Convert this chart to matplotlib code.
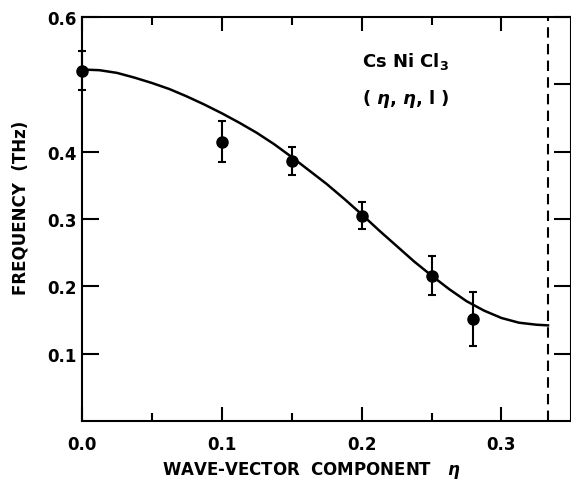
import matplotlib.pyplot as plt
from matplotlib.ticker import FixedLocator

# measured points (CsNiCl3, (eta, eta, 1) direction)
eta = [0.0, 0.1, 0.15, 0.2, 0.25, 0.28]
freq = [0.52, 0.415, 0.386, 0.305, 0.216, 0.152]
err = [0.029, 0.030, 0.021, 0.020, 0.029, 0.040]

# theory curve
curve_eta = [0.0, 0.0125, 0.025, 0.0375, 0.05, 0.0625, 0.075, 0.0875, 0.1,
             0.1125, 0.125, 0.1375, 0.15, 0.1625, 0.175, 0.1875, 0.2, 0.2125,
             0.225, 0.2375, 0.25, 0.2625, 0.275, 0.2875, 0.3, 0.3125, 0.325,
             0.3333]
curve_freq = [0.522, 0.521, 0.517, 0.510, 0.502, 0.493, 0.482, 0.470, 0.457,
              0.443, 0.428, 0.411, 0.392, 0.372, 0.352, 0.330, 0.307, 0.283,
              0.260, 0.237, 0.216, 0.196, 0.178, 0.164, 0.153, 0.146, 0.143,
              0.142]

zone_edge = 1 / 3

x_ticks = [0.0, 0.1, 0.2, 0.3]
x_minor = [0.05, 0.15, 0.25]
y_ticks = [0.1, 0.2, 0.3, 0.4, 0.5, 0.6]
y_labels = ['0.1', '0.2', '0.3', '0.4', '', '0.6']

plt.rcParams['font.family'] = 'DejaVu Sans'
plt.rcParams['font.weight'] = 'bold'
plt.rcParams['mathtext.fontset'] = 'dejavusans'

fig = plt.figure(figsize=(5.71, 4.85), dpi=100)
ax = fig.add_axes([0.1436, 0.1299, 0.857, 0.833])

ax.plot(curve_eta, curve_freq, color='black', lw=1.8, zorder=2)
ax.errorbar(eta, freq, yerr=err, fmt='o', color='black', ms=8,
            elinewidth=1.5, capsize=3, capthick=1.5, clip_on=False, zorder=3)
ax.axvline(zone_edge, color='black', lw=1.5, ls=(0, (5, 3)))

ax.set_xlim(0, 0.35)
ax.set_ylim(0, 0.6)

ax.set_xticks(x_ticks)
ax.set_xticklabels(['0.0', '0.1', '0.2', '0.3'])
ax.xaxis.set_minor_locator(FixedLocator(x_minor))
ax.set_yticks(y_ticks)
ax.set_yticklabels(y_labels)
ax.yaxis.get_major_ticks()[4].tick1line.set_visible(False)

ax.tick_params(axis='both', which='major', direction='in', length=12, width=1.5,
               top=True, right=True, labelsize=12)
ax.tick_params(axis='x', which='major', pad=10, length=10)
ax.tick_params(axis='x', which='minor', direction='in', length=6, width=1.5,
               top=True)
ax.tick_params(axis='y', which='major', pad=4)
for s in ax.spines.values():
    s.set_linewidth(1.5)

ax.set_ylabel('FREQUENCY  (THz)', fontsize=12, fontweight='bold')
ax.yaxis.set_label_coords(-0.108, 0.53)
ax.set_xlabel(r'WAVE-VECTOR  COMPONENT   $\eta$', fontsize=12, fontweight='bold')
ax.xaxis.set_label_coords(0.47, -0.095)

ax.text(0.2, 0.535, r'Cs Ni Cl$_3$', fontsize=13, va='center', ha='left')
ax.text(0.2, 0.48, r'( $\eta$, $\eta$, l )', fontsize=13, va='center', ha='left')

fig.savefig('out.png', dpi=100)
